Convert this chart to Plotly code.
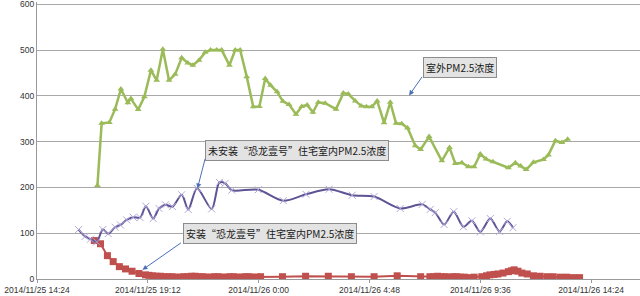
import plotly.graph_objects as go

# ---------------- data ----------------
outdoor_time = [
    "2014-11-25 17:01", "2014-11-25 17:12", "2014-11-25 17:32", "2014-11-25 17:47", "2014-11-25 18:02",
    "2014-11-25 18:20", "2014-11-25 18:28", "2014-11-25 18:47", "2014-11-25 19:03", "2014-11-25 19:20",
    "2014-11-25 19:35", "2014-11-25 19:51", "2014-11-25 20:07", "2014-11-25 20:23", "2014-11-25 20:40",
    "2014-11-25 20:56", "2014-11-25 21:09", "2014-11-25 21:25", "2014-11-25 21:41", "2014-11-25 21:55",
    "2014-11-25 22:11", "2014-11-25 22:24", "2014-11-25 22:44", "2014-11-25 22:59", "2014-11-25 23:12",
    "2014-11-25 23:29", "2014-11-25 23:46", "2014-11-26 00:02", "2014-11-26 00:17", "2014-11-26 00:31",
    "2014-11-26 00:48", "2014-11-26 01:03", "2014-11-26 01:19", "2014-11-26 01:37", "2014-11-26 01:52",
    "2014-11-26 02:06", "2014-11-26 02:21", "2014-11-26 02:35", "2014-11-26 02:53", "2014-11-26 03:21",
    "2014-11-26 03:40", "2014-11-26 03:53", "2014-11-26 04:11", "2014-11-26 04:27", "2014-11-26 04:40",
    "2014-11-26 04:54", "2014-11-26 05:08", "2014-11-26 05:26", "2014-11-26 05:42", "2014-11-26 05:57",
    "2014-11-26 06:12", "2014-11-26 06:27", "2014-11-26 06:47", "2014-11-26 07:01", "2014-11-26 07:23",
    "2014-11-26 07:56", "2014-11-26 08:16", "2014-11-26 08:31", "2014-11-26 08:48", "2014-11-26 09:05",
    "2014-11-26 09:20", "2014-11-26 09:36", "2014-11-26 09:51", "2014-11-26 10:09", "2014-11-26 10:49",
    "2014-11-26 11:07", "2014-11-26 11:21", "2014-11-26 11:35", "2014-11-26 11:54", "2014-11-26 12:20",
    "2014-11-26 12:33", "2014-11-26 12:51", "2014-11-26 13:08", "2014-11-26 13:23",
]
outdoor_pm25 = [
    204, 340, 342, 371, 415, 385, 394, 370, 398, 456,
    434, 502, 434, 447, 483, 472, 467, 478, 495, 500,
    500, 500, 467, 500, 500, 442, 376, 377, 438, 423,
    409, 388, 381, 360, 377, 380, 364, 386, 384, 371,
    406, 404, 389, 378, 376, 376, 389, 341, 386, 340,
    339, 330, 291, 283, 311, 258, 287, 252, 254, 245,
    245, 273, 262, 256, 243, 254, 247, 239, 255, 261,
    271, 302, 298, 305,
]

no_purifier_time = [
    "2014-11-25 16:12", "2014-11-25 16:29", "2014-11-25 16:43", "2014-11-25 16:59", "2014-11-25 17:15",
    "2014-11-25 17:29", "2014-11-25 17:47", "2014-11-25 18:01", "2014-11-25 18:17", "2014-11-25 18:34",
    "2014-11-25 18:52", "2014-11-25 19:07", "2014-11-25 19:26", "2014-11-25 19:41", "2014-11-25 19:58",
    "2014-11-25 20:16", "2014-11-25 20:40", "2014-11-25 20:57", "2014-11-25 21:20", "2014-11-25 21:58",
    "2014-11-25 22:18", "2014-11-25 22:33", "2014-11-25 22:50", "2014-11-25 23:59", "2014-11-26 01:04",
    "2014-11-26 02:03", "2014-11-26 03:03", "2014-11-26 04:03", "2014-11-26 05:00", "2014-11-26 06:08",
    "2014-11-26 07:05", "2014-11-26 07:26", "2014-11-26 07:39", "2014-11-26 08:02", "2014-11-26 08:27",
    "2014-11-26 08:52", "2014-11-26 09:14", "2014-11-26 09:36", "2014-11-26 10:02", "2014-11-26 10:26",
    "2014-11-26 10:46", "2014-11-26 11:01",
]
no_purifier_pm25 = [
    108, 93, 87, 81, 108, 99, 113, 118, 129, 135,
    134, 159, 132, 154, 162, 158, 184, 152, 198, 153,
    211, 209, 194, 195, 171, 185, 196, 183, 180, 154,
    163, 152, 145, 119, 147, 114, 127, 103, 132, 104,
    126, 112,
]

purifier_time = [
    "2014-11-25 16:53", "2014-11-25 17:09", "2014-11-25 17:27", "2014-11-25 17:42", "2014-11-25 17:58",
    "2014-11-25 18:14", "2014-11-25 18:31", "2014-11-25 18:49", "2014-11-25 19:06", "2014-11-25 19:15",
    "2014-11-25 19:25", "2014-11-25 19:35", "2014-11-25 19:45", "2014-11-25 19:55", "2014-11-25 20:05",
    "2014-11-25 20:15", "2014-11-25 20:25", "2014-11-25 20:35", "2014-11-25 20:45", "2014-11-25 20:55",
    "2014-11-25 21:05", "2014-11-25 21:15", "2014-11-25 21:25", "2014-11-25 21:35", "2014-11-25 21:45",
    "2014-11-25 21:55", "2014-11-25 22:05", "2014-11-25 22:15", "2014-11-25 22:25", "2014-11-25 22:35",
    "2014-11-25 22:45", "2014-11-25 22:55", "2014-11-25 23:05", "2014-11-25 23:15", "2014-11-25 23:25",
    "2014-11-25 23:35", "2014-11-25 23:45", "2014-11-25 23:55", "2014-11-26 00:05", "2014-11-26 01:02",
    "2014-11-26 02:02", "2014-11-26 03:01", "2014-11-26 04:01", "2014-11-26 05:00", "2014-11-26 06:00",
    "2014-11-26 07:01", "2014-11-26 07:25", "2014-11-26 07:35", "2014-11-26 07:45", "2014-11-26 07:55",
    "2014-11-26 08:05", "2014-11-26 08:15", "2014-11-26 08:25", "2014-11-26 08:35", "2014-11-26 08:45",
    "2014-11-26 08:55", "2014-11-26 09:06", "2014-11-26 09:20", "2014-11-26 09:40", "2014-11-26 09:52",
    "2014-11-26 10:01", "2014-11-26 10:12", "2014-11-26 10:22", "2014-11-26 10:35", "2014-11-26 10:49",
    "2014-11-26 10:57", "2014-11-26 11:04", "2014-11-26 11:14", "2014-11-26 11:24", "2014-11-26 11:38",
    "2014-11-26 11:54", "2014-11-26 12:11", "2014-11-26 12:29", "2014-11-26 12:45", "2014-11-26 13:03",
    "2014-11-26 13:20", "2014-11-26 13:38", "2014-11-26 13:54",
]
purifier_pm25 = [
    84, 77, 51, 38, 27, 22, 17, 12, 9, 8,
    7, 6, 6, 5, 5, 5, 4, 4, 5, 5,
    6, 6, 5, 5, 4, 4, 5, 5, 4, 4,
    5, 5, 4, 4, 5, 5, 4, 4, 5, 5,
    6, 6, 5, 5, 7, 5, 5, 5, 6, 5,
    5, 4, 5, 5, 4, 4, 3, 4, 5, 7,
    9, 10, 11, 13, 16, 18, 20, 17, 13, 11,
    7, 6, 5, 5, 4, 4, 3, 3,
]

x_range = ["2014-11-25 14:24", "2014-11-26 16:31"]
x_tick0 = "2014-11-25 14:24"
x_dtick_ms = 4.8 * 3600 * 1000
y_range = [0, 605]

label_outdoor = "室外PM2.5浓度"
label_no_purifier = "未安装“恐龙壹号”住宅室内PM2.5浓度"
label_purifier = "安装“恐龙壹号”住宅室内PM2.5浓度"

# arrow targets (data space)
arrow_outdoor = ("2014-11-26 06:31", 401)
arrow_no_purifier = ("2014-11-25 21:21", 198)
arrow_purifier = ("2014-11-25 18:58", 20)

# ---------------- figure ----------------
fig = go.Figure()

fig.add_trace(go.Scatter(
    x=purifier_time, y=purifier_pm25, mode="lines+markers",
    line=dict(color="#c0504d", width=2),
    marker=dict(symbol="square", size=7, color="#c0504d"),
    name=label_purifier,
))
fig.add_trace(go.Scatter(
    x=outdoor_time, y=outdoor_pm25, mode="lines+markers",
    line=dict(color="#9bbb59", width=2.5),
    marker=dict(symbol="triangle-up", size=6, color="#9bbb59"),
    name=label_outdoor,
))
fig.add_trace(go.Scatter(
    x=no_purifier_time, y=no_purifier_pm25, mode="lines+markers",
    line=dict(color="#5e5394", width=2, shape="spline", smoothing=0.8),
    marker=dict(symbol="x-thin", size=7, color="#b3a8d9",
                line=dict(width=1, color="#b3a8d9")),
    name=label_no_purifier,
))

# annotation boxes: paper coords for a 37..640 x 2..279 plot area
box_style = dict(bgcolor="#e3e3e3", bordercolor="#8c8c8c", borderwidth=1, borderpad=2,
                 font=dict(family="Noto Sans CJK SC", size=10, color="#1a1a1a"),
                 showarrow=False, xref="paper", yref="paper",
                 xanchor="left", yanchor="top")

fig.add_annotation(text=label_outdoor, x=0.6396, y=0.8025, **box_style)
fig.add_annotation(text=label_no_purifier, x=0.2786, y=0.502, **box_style)
fig.add_annotation(text=label_purifier, x=0.2413, y=0.202, **box_style)

arrow_style = dict(text="", showarrow=True, arrowhead=2, arrowsize=1, arrowwidth=1,
                   arrowcolor="#4a6fb5", xref="x", yref="y")
fig.add_annotation(x=arrow_outdoor[0], y=arrow_outdoor[1], ax=14, ay=-20, **arrow_style)
fig.add_annotation(x=arrow_no_purifier[0], y=arrow_no_purifier[1], ax=8, ay=-31, **arrow_style)
fig.add_annotation(x=arrow_purifier[0], y=arrow_purifier[1], ax=40, ay=-28, **arrow_style)

axis_font = dict(family="Liberation Sans", size=8.5, color="#333333")
fig.update_layout(
    width=640, height=296,
    margin=dict(l=37, r=0, t=2, b=17),
    paper_bgcolor="white", plot_bgcolor="white",
    showlegend=False,
    xaxis=dict(type="date", range=x_range, tick0=x_tick0, dtick=x_dtick_ms,
               tickformat="%Y/%m/%d %-H:%M", showgrid=False, zeroline=False,
               showline=True, linecolor="#999999", linewidth=1,
               ticks="outside", ticklen=3, tickcolor="#999999",
               tickfont=axis_font, ticklabeloverflow="allow"),
    yaxis=dict(range=y_range, dtick=100, tick0=0, showgrid=True, gridcolor="#a8a8a8",
               gridwidth=1, zeroline=False, showline=True, linecolor="#999999",
               linewidth=1, ticks="", tickfont=axis_font, ticklabeloverflow="allow"),
)

fig.write_html("out.html")
